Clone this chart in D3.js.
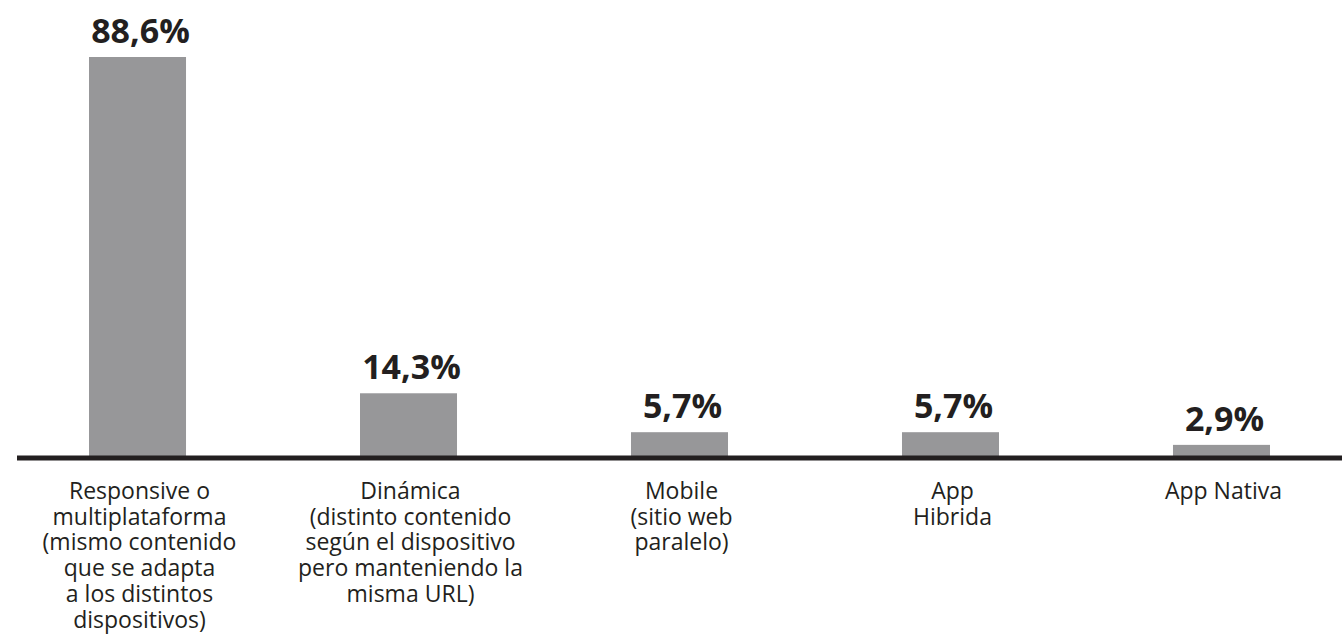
<!DOCTYPE html>
<html>
<head>
<meta charset="utf-8">
<script src="https://cdn.jsdelivr.net/npm/d3@7"></script>
<style>
  body { margin: 0; background: #ffffff; }
  text { font-family: "Open Sans", sans-serif; fill: #231f20; }
</style>
</head>
<body>
<div id="viz"></div>
<script>
// chart data
var categories = ["Responsive", "Dinamica", "Mobile", "AppHibrida", "AppNativa"];

var values = [88.6, 14.3, 5.7, 5.7, 2.9];

// multi line labels under each bar
var categoryLines = [
  ["Responsive o", "multiplataforma", "(mismo contenido", "que se adapta", "a los distintos", "dispositivos)"],
  ["Dinámica", "(distinto contenido", "según el dispositivo", "pero manteniendo la", "misma URL)"],
  ["Mobile", "(sitio web", "paralelo)"],
  ["App", "Hibrida"],
  ["App Nativa"]
];

// set the dimensions of the graph
var w = 1342;
var h = 636;
var baseY = 458;

var svg = d3.select("div#viz")
  .append("svg")
  .attr("width", w)
  .attr("height", h);

var xScale = d3.scaleBand()
  .domain(categories)
  .range([89, 1270])
  .paddingInner(0.642)
  .paddingOuter(0);

var yScale = d3.scaleLinear()
  .domain([0, 88.6])
  .range([baseY, 57]);

// format like 88,6%
var fmt = function (v) {
  return v.toFixed(1).replace(".", ",") + "%";
};

// bars
svg.selectAll("rect.bar")
  .data(values)
  .enter()
  .append("rect")
  .attr("class", "bar")
  .attr("x", function (d, i) { return xScale(categories[i]); })
  .attr("y", function (d) { return yScale(d); })
  .attr("width", xScale.bandwidth())
  .attr("height", function (d) { return baseY - yScale(d); })
  .attr("fill", "#979799");

// baseline
svg.append("line")
  .attr("x1", 17)
  .attr("x2", w)
  .attr("y1", baseY)
  .attr("y2", baseY)
  .attr("stroke", "#231f20")
  .attr("stroke-width", 5);

// value labels above bars
svg.selectAll("text.value")
  .data(values)
  .enter()
  .append("text")
  .attr("class", "value")
  .attr("x", function (d, i) { return xScale(categories[i]) + xScale.bandwidth() / 2 + 3; })
  .attr("y", function (d) { return yScale(d) - 14; })
  .style("text-anchor", "middle")
  .style("font-weight", "bold")
  .style("font-size", "34px")
  .text(fmt);

// category labels under the axis
var labels = svg.selectAll("text.cat")
  .data(categoryLines)
  .enter()
  .append("text")
  .attr("class", "cat")
  .attr("x", function (d, i) { return xScale(categories[i]) + xScale.bandwidth() / 2 + 2; })
  .attr("y", 499)
  .style("text-anchor", "middle")
  .style("font-size", "23px");

labels.each(function (d, i) {
  var t = d3.select(this);
  var x = xScale(categories[i]) + xScale.bandwidth() / 2 + 2;
  d.forEach(function (line, j) {
    t.append("tspan")
      .attr("x", x)
      .attr("dy", j === 0 ? 0 : 25.7)
      .text(line);
  });
});
</script>
</body>
</html>
